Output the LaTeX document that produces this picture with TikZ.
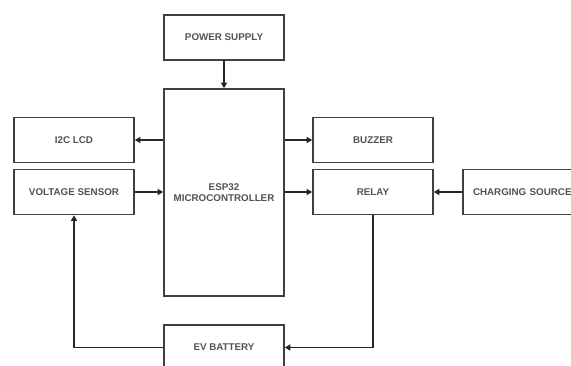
\documentclass[tikz,border=0pt]{standalone}
\usepackage{fontspec}
\setmainfont{Liberation Sans}
\usetikzlibrary{arrows.meta}
\begin{document}
\begin{tikzpicture}[x=1pt,y=-1pt,
  blk/.style={draw=black!75, line width=1.6pt, minimum width=120pt, minimum height=45pt, inner sep=0pt, font=\fontsize{9.8}{11.5}\selectfont\bfseries, text=black!68, align=center},
  conn/.style={draw=black!85, line width=1.6pt, -{Triangle[length=5.5pt,width=6pt]}}]
\clip (0,0) rectangle (571,365);
\fill[white] (0,0) rectangle (571,365);
\node[blk] (ps) at (224,37.5) {POWER SUPPLY};
\node[blk, minimum height=207pt] (esp) at (224,192.5) {ESP32\\MICROCONTROLLER};
\node[blk] (lcd) at (74,140) {I2C LCD};
\node[blk] (vs) at (74,192) {VOLTAGE SENSOR};
\node[blk] (bz) at (373,140) {BUZZER};
\node[blk] (rl) at (373,192) {RELAY};
\node[blk, minimum width=124pt, text width=104pt, align=left] (cs) at (525,192) {CHARGING SOURCE};
\node[blk] (ev) at (224,347.5) {EV BATTERY};
\draw[conn] (ps.south) -- (esp.north);
\draw[conn] (esp.west |- lcd.east) -- (lcd.east);
\draw[conn] (vs.east) -- (esp.west |- vs.east);
\draw[conn] (esp.east |- bz.west) -- (bz.west);
\draw[conn] (esp.east |- rl.west) -- (rl.west);
\draw[conn] (cs.west) -- (rl.east);
\draw[conn] (rl.south) |- (ev.east);
\draw[conn] (ev.west) -| (vs.south);
\end{tikzpicture}
\end{document}
